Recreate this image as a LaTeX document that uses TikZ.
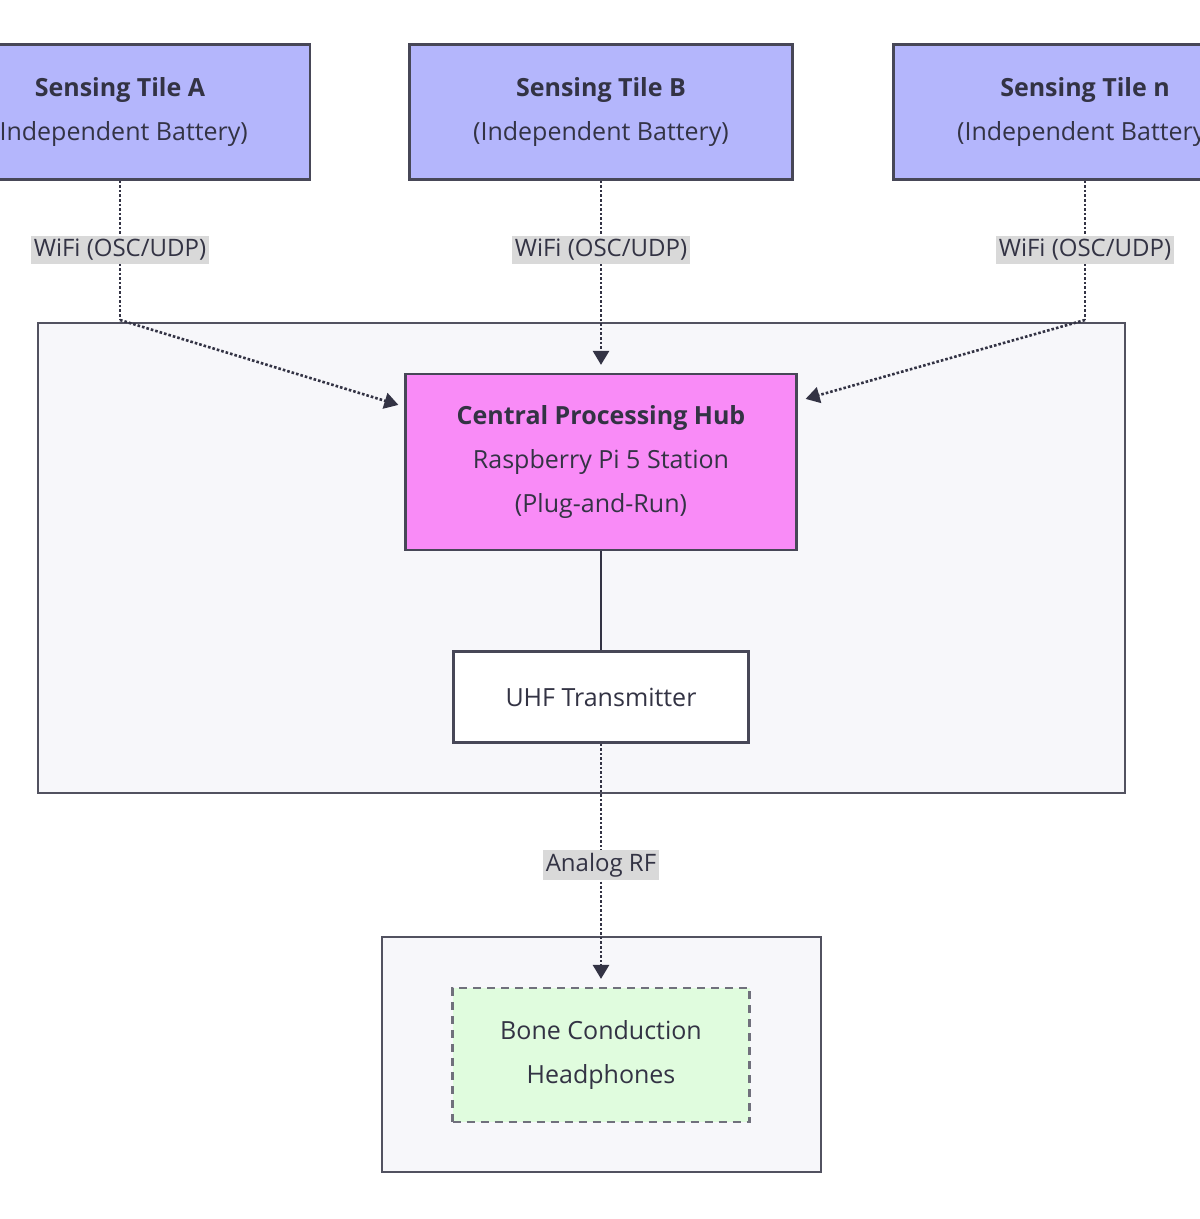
\documentclass[tikz,border=0pt]{standalone}
\usepackage{fontspec}
\setmainfont{Open Sans}
\usetikzlibrary{arrows.meta}
\definecolor{tile}{HTML}{B4B6FC}
\definecolor{hub}{HTML}{F98BF7}
\definecolor{cont}{HTML}{F7F7FA}
\definecolor{bone}{HTML}{E0FCDE}
\definecolor{lbl}{HTML}{D9D9D9}
\definecolor{txt}{HTML}{333344}
\tikzset{
 box/.style={draw=txt!90,line width=2.2pt,inner sep=0pt,font=\fontsize{25}{44}\selectfont,text=txt,align=center},
 cnt/.style={draw=txt!85,line width=2.2pt,fill=cont},
 lab/.style={fill=lbl,text=txt,font=\fontsize{24}{28}\selectfont,inner sep=3pt},
 dot/.style={dotted,line width=2.6pt,draw=txt},
 arr/.style={-{Triangle[length=14pt,width=16pt]}}
}
\begin{document}
\begin{tikzpicture}[x=1pt,y=-1pt]
\useasboundingbox (0,0) rectangle (1200,1219);
\clip (0,0) rectangle (1200,1219);
\fill[white] (0,0) rectangle (1200,1219);
\draw[cnt] (38,323) rectangle (1125,793);
\draw[cnt] (382,937) rectangle (821,1172);
\node[box,fill=tile,minimum width=380pt,minimum height=135pt] (A) at (120,112) {\textbf{Sensing Tile A}\\(Independent Battery)};
\node[box,fill=tile,minimum width=383pt,minimum height=135pt] (B) at (601,112) {\textbf{Sensing Tile B}\\(Independent Battery)};
\node[box,fill=tile,minimum width=383pt,minimum height=135pt] (N) at (1085,112) {\textbf{Sensing Tile n}\\(Independent Battery)};
\node[box,fill=hub,minimum width=391pt,minimum height=176pt] (H) at (601,462) {\textbf{Central Processing Hub}\\Raspberry Pi 5 Station\\(Plug-and-Run)};
\node[box,fill=white,minimum width=295pt,minimum height=91pt] (U) at (601,697) {UHF Transmitter};
\node[box,fill=bone,dashed,dash pattern=on 8pt off 6pt,draw=txt!70,minimum width=297pt,minimum height=134pt] (BC) at (601,1055) {Bone Conduction\\Headphones};
\coordinate (a1) at (120,320);
\coordinate (n1) at (1085,320);
\draw[dot] (A) -- (a1);
\draw[dot,arr] (a1) -- ([xshift=-6pt,yshift=-32pt]H.north west);
\draw[dot,arr] (B) -- ([yshift=8pt]H.north);
\draw[dot] (N) -- (n1);
\draw[dot,arr] (n1) -- ([xshift=8pt,yshift=-26pt]H.north east);
\draw[line width=2.6pt,draw=txt] (H) -- (U);
\draw[dot,arr] (U) -- ([yshift=8pt]BC.north);
\node[lab] at (120,250) {WiFi (OSC/UDP)};
\node[lab] at (601,250) {WiFi (OSC/UDP)};
\node[lab] at (1085,250) {WiFi (OSC/UDP)};
\node[lab] at (601,865) {Analog RF};
\end{tikzpicture}
\end{document}
